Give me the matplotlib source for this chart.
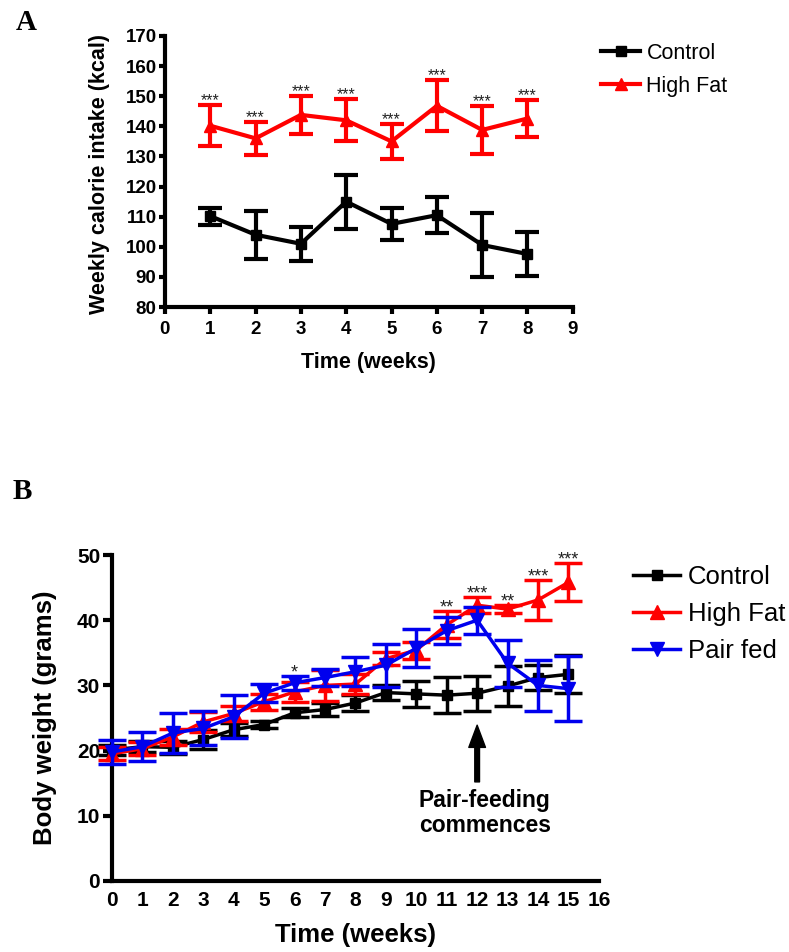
import matplotlib
matplotlib.use("Agg")
import matplotlib.pyplot as plt
from matplotlib.ticker import FixedLocator

plt.rcParams['font.family'] = ['Liberation Sans', 'DejaVu Sans']

# ---- Panel A: weekly calorie intake ----
weeks_a = [1, 2, 3, 4, 5, 6, 7, 8]
control_a = [110.2, 104.0, 101.0, 115.0, 107.6, 110.5, 100.6, 97.6]
control_a_err = [2.8, 8.0, 5.6, 9.0, 5.2, 6.0, 10.7, 7.2]
highfat_a = [140.2, 136.0, 143.8, 142.0, 135.0, 146.8, 138.8, 142.6]
highfat_a_err = [6.8, 5.5, 6.3, 7.0, 5.8, 8.5, 8.0, 6.2]
sig_a = ['***', '***', '***', '***', '***', '***', '***', '***']
xticks_a = [0, 1, 2, 3, 4, 5, 6, 7, 8, 9]
yticks_a = [80, 90, 100, 110, 120, 130, 140, 150, 160, 170]

# ---- Panel B: body weight ----
weeks_b = [0, 1, 2, 3, 4, 5, 6, 7, 8, 9, 10, 11, 12, 13, 14, 15]
control_b = [20.1, 20.6, 20.5, 21.7, 23.2, 24.0, 25.8, 26.3, 27.3,
             28.9, 28.7, 28.5, 28.8, 29.9, 31.2, 31.7]
control_b_err = [0.8, 0.8, 1.0, 1.4, 1.0, 0.6, 0.7, 1.0, 1.2,
                 1.2, 2.0, 2.8, 2.7, 3.1, 1.9, 2.9]
highfat_b = [19.5, 20.3, 22.1, 24.4, 25.7, 27.5, 29.0, 30.0, 30.2,
             34.1, 35.4, 39.3, 42.3, 41.7, 43.1, 45.8]
highfat_b_err = [1.0, 1.0, 1.2, 1.5, 1.2, 1.2, 1.5, 2.4, 1.5,
                 1.0, 1.3, 2.1, 1.2, 0.6, 3.1, 2.9]
pairfed_b = [19.8, 20.6, 22.7, 23.4, 25.2, 28.8, 30.4, 31.2, 32.1,
             33.1, 35.7, 38.4, 40.0, 33.4, 30.0, 29.5]
pairfed_b_err = [1.8, 2.2, 3.1, 2.6, 3.3, 1.4, 1.1, 1.3, 2.2,
                 3.3, 2.9, 2.1, 2.1, 3.6, 3.9, 5.0]
sig_b_weeks = [6, 11, 12, 13, 14, 15]
sig_b = ['*', '**', '***', '**', '***', '***']
xticks_b = list(range(0, 17))
yticks_b = [0, 10, 20, 30, 40, 50]
pair_feeding_week = 12

fig = plt.figure(figsize=(7.89, 9.52), dpi=100)

# ---------------- Panel A ----------------
axA = fig.add_axes([0.209, 0.6775, 0.517, 0.2847])
axA.set_xlim(0, 9)
axA.set_ylim(80, 170)
for s in ('top', 'right'):
    axA.spines[s].set_visible(False)
for s in ('left', 'bottom'):
    axA.spines[s].set_linewidth(3)
axA.xaxis.set_major_locator(FixedLocator(xticks_a))
axA.yaxis.set_major_locator(FixedLocator(yticks_a))
axA.tick_params(axis='y', width=3, length=4, labelsize=13.5, pad=2)
axA.tick_params(axis='x', width=3, length=5, labelsize=13.5, pad=5)
for lab in axA.get_xticklabels() + axA.get_yticklabels():
    lab.set_fontweight('bold')

ekw_a = dict(linewidth=3, elinewidth=3, capsize=8.5, capthick=3, clip_on=False)
eb_ctrl_a = axA.errorbar(weeks_a, control_a, yerr=control_a_err, color='black',
                         marker='s', markersize=7, zorder=3, **ekw_a)
eb_hf_a = axA.errorbar(weeks_a, highfat_a, yerr=highfat_a_err, color='#ff0000',
                       marker='^', markersize=8.5, zorder=4, **ekw_a)
for x, y, e, s in zip(weeks_a, highfat_a, highfat_a_err, sig_a):
    axA.annotate(s, (x, y + e), xytext=(0, 0), textcoords='offset points',
                 ha='center', va='baseline', fontsize=11.5, color='#222222')

axA.set_xlabel('Time (weeks)', fontsize=15.5, fontweight='bold')
axA.set_ylabel('Weekly calorie intake (kcal)', fontsize=15.5, fontweight='bold')
axA.xaxis.set_label_coords(0.5, -0.165)
axA.yaxis.set_label_coords(-0.135, 0.49)

fig.legend([eb_ctrl_a.lines[0], eb_hf_a.lines[0]], ['Control', 'High Fat'],
           loc='upper left', bbox_to_anchor=(0.762, 0.955), frameon=False,
           fontsize=15.5, handlelength=1.8, handletextpad=0.3,
           labelspacing=0.55, borderpad=0, borderaxespad=0)

# ---------------- Panel B ----------------
axB = fig.add_axes([0.142, 0.0746, 0.617, 0.3424])
axB.set_xlim(0, 16)
axB.set_ylim(0, 50)
for s in ('top', 'right'):
    axB.spines[s].set_visible(False)
for s in ('left', 'bottom'):
    axB.spines[s].set_linewidth(3)
axB.xaxis.set_major_locator(FixedLocator(xticks_b))
axB.yaxis.set_major_locator(FixedLocator(yticks_b))
axB.tick_params(axis='y', width=3, length=6.5, labelsize=15, pad=2)
axB.tick_params(axis='x', length=0, labelsize=15, pad=7)
for lab in axB.get_xticklabels() + axB.get_yticklabels():
    lab.set_fontweight('bold')

ekw_b = dict(linewidth=2.5, elinewidth=2.5, capsize=10, capthick=2.5,
             clip_on=False)
eb_ctrl_b = axB.errorbar(weeks_b, control_b, yerr=control_b_err, color='black',
                         marker='s', markersize=7.5, zorder=3, **ekw_b)
eb_hf_b = axB.errorbar(weeks_b, highfat_b, yerr=highfat_b_err, color='#ff0000',
                       marker='^', markersize=9.5, zorder=4, **ekw_b)
eb_pf_b = axB.errorbar(weeks_b, pairfed_b, yerr=pairfed_b_err, color='#0000ee',
                       marker='v', markersize=9.5, zorder=5, **ekw_b)

for w, s in zip(sig_b_weeks, sig_b):
    i = weeks_b.index(w)
    top = max(control_b[i] + control_b_err[i], highfat_b[i] + highfat_b_err[i],
              pairfed_b[i] + pairfed_b_err[i])
    axB.annotate(s, (w, top), xytext=(0, -1), textcoords='offset points',
                 ha='center', va='baseline', fontsize=13, color='#222222')

axB.annotate('', xy=(pair_feeding_week, 23.9), xytext=(pair_feeding_week, 15.2),
             arrowprops=dict(facecolor='black', edgecolor='black', width=3.4,
                             headwidth=12, headlength=16))
axB.text(pair_feeding_week + 0.25, 10.4, 'Pair-feeding\ncommences', ha='center',
         va='center', fontsize=16.5, fontweight='bold', linespacing=1.1)

axB.set_xlabel('Time (weeks)', fontsize=18.5, fontweight='bold')
axB.set_ylabel('Body weight (grams)', fontsize=18.5, fontweight='bold')
axB.xaxis.set_label_coords(0.5, -0.128)
axB.yaxis.set_label_coords(-0.113, 0.5)

fig.legend([eb_ctrl_b.lines[0], eb_hf_b.lines[0], eb_pf_b.lines[0]],
           ['Control', 'High Fat', 'Pair fed'],
           loc='upper left', bbox_to_anchor=(0.802, 0.406), frameon=False,
           fontsize=18.5, handlelength=1.85, handletextpad=0.3,
           labelspacing=0.5, borderpad=0, borderaxespad=0)

# Panel letters
fig.text(26 / 789, 1 - 23 / 952, 'A', ha='center', va='center', fontsize=21,
         fontweight='bold', family=['Liberation Serif', 'DejaVu Serif'])
fig.text(22 / 789, 1 - 491 / 952, 'B', ha='center', va='center', fontsize=21,
         fontweight='bold', family=['Liberation Serif', 'DejaVu Serif'])

fig.savefig('out.png', dpi=100)
